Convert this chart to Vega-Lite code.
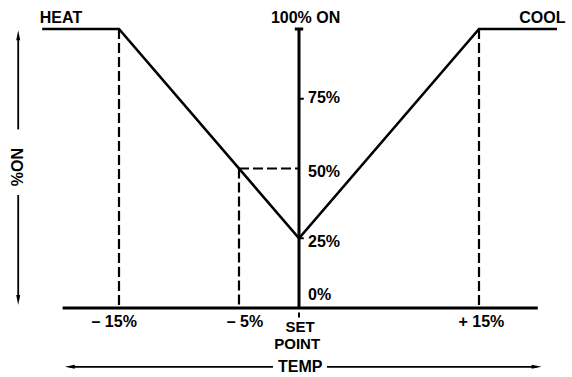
{
  "$schema": "https://vega.github.io/schema/vega-lite/v6.json",
  "width": 552,
  "height": 279,
  "autosize": {"type": "none"},
  "padding": {"left": 11, "top": 29, "right": 9, "bottom": 69},
  "background": "white",
  "config": {"view": {"stroke": null}},
  "datasets": {
    "curve": [
      {"x": -21.4, "y": 100},
      {"x": -15, "y": 100},
      {"x": 0, "y": 25},
      {"x": 15, "y": 100},
      {"x": 21.5, "y": 100}
    ],
    "segments": [
      {"role": "axis", "x": -19.7, "y": 0, "x2": 19.9, "y2": 0},
      {"role": "axis", "x": 0, "y": 0, "x2": 0, "y2": 100},
      {"role": "axis", "x": -0.35, "y": 100, "x2": 0.35, "y2": 100},
      {"role": "tick", "x": 0, "y": 75, "x2": 0.4, "y2": 75},
      {"role": "tick", "x": 0, "y": 25, "x2": 0.4, "y2": 25},
      {"role": "tick", "x": 0, "y": -1.6, "x2": 0, "y2": -3.4},
      {"role": "guide", "x": -15, "y": 100, "x2": -15, "y2": 0},
      {"role": "guide", "x": 15, "y": 100, "x2": 15, "y2": 0},
      {"role": "guide", "x": -5, "y": 50, "x2": -5, "y2": 0},
      {"role": "guide", "x": -5, "y": 50, "x2": 0, "y2": 50},
      {"role": "arrow", "x": -23.4, "y": 97, "x2": -23.4, "y2": 64},
      {"role": "arrow", "x": -23.4, "y": 40.5, "x2": -23.4, "y2": 3},
      {"role": "arrow", "x": -19.1, "y": -21.1, "x2": -2.17, "y2": -21.1},
      {"role": "arrow", "x": 2.33, "y": -21.1, "x2": 19.8, "y2": -21.1}
    ],
    "heads": [
      {"dir": "up", "x": -23.4, "y": 97.8},
      {"dir": "down", "x": -23.4, "y": 2.9},
      {"dir": "left", "x": -19.1, "y": -21.1},
      {"dir": "right", "x": 19.8, "y": -21.1}
    ],
    "labels": [
      {"anchor": "left", "x": -21.6, "y": 103.9, "label": "HEAT"},
      {"anchor": "right", "x": 22.2, "y": 103.9, "label": "COOL"},
      {"anchor": "center", "x": 0.55, "y": 103.9, "label": "100% ON"},
      {"anchor": "left", "x": 0.75, "y": 75.3, "label": "75%"},
      {"anchor": "left", "x": 0.75, "y": 48.7, "label": "50%"},
      {"anchor": "left", "x": 0.75, "y": 23.7, "label": "25%"},
      {"anchor": "left", "x": 0.75, "y": 4.7, "label": "0%"},
      {"anchor": "center", "x": -15.4, "y": -5.0, "label": "– 15%"},
      {"anchor": "center", "x": -4.5, "y": -5.0, "label": "– 5%"},
      {"anchor": "center", "x": 15.2, "y": -5.0, "label": "+ 15%"},
      {"anchor": "center", "x": 0.1, "y": -6.8, "label": "SET"},
      {"anchor": "center", "x": -0.15, "y": -12.9, "label": "POINT"},
      {"anchor": "center", "x": 0.1, "y": -21.1, "label": "TEMP"},
      {"anchor": "rotated", "x": -23.4, "y": 50.5, "label": "%ON"}
    ]
  },
  "encoding": {
    "x": {"field": "x", "type": "quantitative", "axis": null, "scale": {"domain": [-24, 22], "nice": false, "zero": false}},
    "y": {"field": "y", "type": "quantitative", "axis": null, "scale": {"domain": [0, 100], "nice": false, "zero": false}}
  },
  "layer": [
    {
      "data": {"name": "segments"},
      "transform": [{"filter": "datum.role === 'guide'"}],
      "mark": {"type": "rule", "color": "black", "strokeWidth": 2.2, "strokeDash": [10, 4]},
      "encoding": {"x2": {"field": "x2"}, "y2": {"field": "y2"}}
    },
    {
      "data": {"name": "segments"},
      "transform": [{"filter": "datum.role === 'axis'"}],
      "mark": {"type": "rule", "color": "black", "strokeWidth": 3},
      "encoding": {"x2": {"field": "x2"}, "y2": {"field": "y2"}}
    },
    {
      "data": {"name": "segments"},
      "transform": [{"filter": "datum.role === 'tick'"}],
      "mark": {"type": "rule", "color": "black", "strokeWidth": 2},
      "encoding": {"x2": {"field": "x2"}, "y2": {"field": "y2"}}
    },
    {
      "data": {"name": "segments"},
      "transform": [{"filter": "datum.role === 'arrow'"}],
      "mark": {"type": "rule", "color": "black", "strokeWidth": 1.8},
      "encoding": {"x2": {"field": "x2"}, "y2": {"field": "y2"}}
    },
    {
      "data": {"name": "curve"},
      "mark": {"type": "line", "color": "black", "strokeWidth": 2.6},
      "encoding": {}
    },
    {
      "data": {"name": "heads"},
      "transform": [{"filter": "datum.dir === 'up'"}],
      "mark": {"type": "point", "shape": "M0,-1L-0.4,1L0.4,1Z", "filled": true, "color": "black", "size": 100, "opacity": 1}
    },
    {
      "data": {"name": "heads"},
      "transform": [{"filter": "datum.dir === 'down'"}],
      "mark": {"type": "point", "shape": "M0,1L-0.4,-1L0.4,-1Z", "filled": true, "color": "black", "size": 100, "opacity": 1}
    },
    {
      "data": {"name": "heads"},
      "transform": [{"filter": "datum.dir === 'left'"}],
      "mark": {"type": "point", "shape": "M-1,0L1,-0.4L1,0.4Z", "filled": true, "color": "black", "size": 100, "opacity": 1}
    },
    {
      "data": {"name": "heads"},
      "transform": [{"filter": "datum.dir === 'right'"}],
      "mark": {"type": "point", "shape": "M1,0L-1,-0.4L-1,0.4Z", "filled": true, "color": "black", "size": 100, "opacity": 1}
    },
    {
      "data": {"name": "labels"},
      "transform": [{"filter": "datum.anchor === 'left'"}],
      "mark": {"type": "text", "align": "left", "baseline": "middle", "font": "'Liberation Sans Narrow', 'Liberation Sans', sans-serif", "fontWeight": "bold", "fontSize": 16, "color": "black"},
      "encoding": {"text": {"field": "label"}}
    },
    {
      "data": {"name": "labels"},
      "transform": [{"filter": "datum.anchor === 'right'"}],
      "mark": {"type": "text", "align": "right", "baseline": "middle", "font": "'Liberation Sans Narrow', 'Liberation Sans', sans-serif", "fontWeight": "bold", "fontSize": 16, "color": "black"},
      "encoding": {"text": {"field": "label"}}
    },
    {
      "data": {"name": "labels"},
      "transform": [{"filter": "datum.anchor === 'center' && datum.label !== 'SET' && datum.label !== 'POINT'"}],
      "mark": {"type": "text", "align": "center", "baseline": "middle", "font": "'Liberation Sans Narrow', 'Liberation Sans', sans-serif", "fontWeight": "bold", "fontSize": 16, "color": "black"},
      "encoding": {"text": {"field": "label"}}
    },
    {
      "data": {"name": "labels"},
      "transform": [{"filter": "datum.label === 'SET' || datum.label === 'POINT'"}],
      "mark": {"type": "text", "align": "center", "baseline": "middle", "font": "'Liberation Sans Narrow', 'Liberation Sans', sans-serif", "fontWeight": "bold", "fontSize": 15, "color": "black"},
      "encoding": {"text": {"field": "label"}}
    },
    {
      "data": {"name": "labels"},
      "transform": [{"filter": "datum.anchor === 'rotated'"}],
      "mark": {"type": "text", "align": "center", "baseline": "middle", "angle": 270, "font": "'Liberation Sans Narrow', 'Liberation Sans', sans-serif", "fontWeight": "bold", "fontSize": 16, "color": "black"},
      "encoding": {"text": {"field": "label"}}
    }
  ]
}
